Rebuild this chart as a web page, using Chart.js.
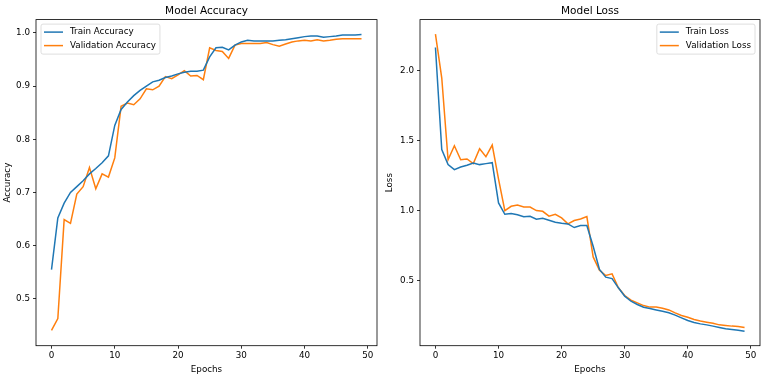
<!DOCTYPE html>
<html>
<head>
<meta charset="utf-8">
<script src="https://cdn.jsdelivr.net/npm/chart.js@4.4.1/dist/chart.umd.min.js"></script>
<style>
  body { margin: 0; background: #fff; }
  #wrap { position: relative; width: 764px; height: 378px; }
  canvas { position: absolute; top: 0; }
</style>
</head>
<body>
<div id="wrap">
  <canvas id="acc" width="382" height="378" style="left:0"></canvas>
  <canvas id="loss" width="382" height="378" style="left:382px"></canvas>
</div>
<script>
// epochs 0..49
var epochs = [0,1,2,3,4,5,6,7,8,9,10,11,12,13,14,15,16,17,18,19,20,21,22,23,24,
              25,26,27,28,29,30,31,32,33,34,35,36,37,38,39,40,41,42,43,44,45,46,47,48,49]

var trainAcc = [0.555,0.652,0.680,0.700,0.711,0.722,0.735,0.745,0.756,0.769,
                0.826,0.856,0.870,0.882,0.892,0.900,0.908,0.911,0.916,0.919,
                0.923,0.926,0.928,0.928,0.930,0.955,0.972,0.973,0.968,0.977,
                0.983,0.986,0.985,0.985,0.985,0.985,0.986,0.987,0.989,0.991,
                0.993,0.994,0.994,0.992,0.993,0.994,0.996,0.996,0.996,0.997]

var valAcc = [0.441,0.463,0.649,0.642,0.697,0.711,0.747,0.707,0.735,0.729,
              0.765,0.862,0.868,0.865,0.876,0.895,0.893,0.900,0.918,0.914,
              0.921,0.929,0.919,0.920,0.912,0.972,0.967,0.965,0.952,0.977,
              0.980,0.980,0.980,0.980,0.982,0.978,0.975,0.979,0.983,0.985,
              0.986,0.985,0.987,0.985,0.986,0.988,0.989,0.989,0.989,0.989]

var trainLoss = [2.166,1.436,1.329,1.293,1.312,1.324,1.340,1.329,1.336,1.343,
                 1.055,0.974,0.980,0.971,0.957,0.959,0.938,0.945,0.931,0.917,
                 0.910,0.905,0.879,0.893,0.893,0.745,0.579,0.524,0.514,0.448,
                 0.388,0.352,0.329,0.309,0.300,0.290,0.281,0.269,0.253,0.233,
                 0.214,0.200,0.190,0.183,0.174,0.164,0.155,0.150,0.145,0.138]

var valLoss = [2.262,1.948,1.364,1.464,1.364,1.369,1.336,1.443,1.386,1.469,
               1.225,1.000,1.031,1.040,1.026,1.026,1.000,0.995,0.960,0.974,
               0.948,0.905,0.929,0.940,0.957,0.669,0.574,0.536,0.548,0.448,
               0.393,0.360,0.340,0.321,0.310,0.310,0.302,0.290,0.269,0.250,
               0.238,0.221,0.210,0.202,0.195,0.183,0.179,0.174,0.171,0.164]

var epochTicks = [0, 10, 20, 30, 40, 50]
var accTicks = [0.5, 0.6, 0.7, 0.8, 0.9, 1.0]
var lossTicks = [0.5, 1.0, 1.5, 2.0]

var FONT = 'DejaVu Sans'
var small = { family: FONT, size: 8.75 }
var BLUE = '#1f77b4', ORANGE = '#ff7f0e'

function pts(vals) {
    return epochs.map(function (e, i) { return { x: e, y: vals[i] } })
}

// axes frame like matplotlib spines
var frame = {
    id: 'frame',
    afterDatasetsDraw: function (chart) {
        var a = chart.chartArea, ctx = chart.ctx
        ctx.save()
        ctx.strokeStyle = '#000'
        ctx.lineWidth = 0.8
        ctx.strokeRect(a.left, a.top, a.right - a.left, a.bottom - a.top)
        ctx.restore()
    }
}

// legend box inside the axes
var boxLegend = {
    id: 'boxLegend',
    afterDraw: function (chart, args, opts) {
        var ctx = chart.ctx, a = chart.chartArea
        var ds = chart.data.datasets
        ctx.save()
        ctx.font = '8.75px "' + FONT + '"'
        var tw = 0
        ds.forEach(function (d) { tw = Math.max(tw, ctx.measureText(d.label).width) })
        var w = 29 + tw + 4, h = 30
        var x = opts.side === 'right' ? a.right - 5 - w : a.left + 5
        var y = a.top + 4.5
        ctx.fillStyle = 'rgba(255,255,255,0.8)'
        ctx.strokeStyle = '#d6d6d6'
        ctx.lineWidth = 0.8
        ctx.beginPath()
        ctx.roundRect(x, y, w, h, 2)
        ctx.fill()
        ctx.stroke()
        ds.forEach(function (d, i) {
            var ly = y + 8 + i * 13.5
            ctx.strokeStyle = d.borderColor
            ctx.lineWidth = 1.5
            ctx.beginPath()
            ctx.moveTo(x + 3, ly)
            ctx.lineTo(x + 22, ly)
            ctx.stroke()
            ctx.fillStyle = '#000'
            ctx.textBaseline = 'middle'
            ctx.fillText(d.label, x + 29, ly)
        })
        ctx.restore()
    }
}

function makeChart(id, title, yLabel, series, yMin, yMax, yTicks, yWidth, rightPad, legendSide) {
    return new Chart(document.getElementById(id), {
        type: 'line',
        data: {
            datasets: series.map(function (s) {
                return {
                    label: s.label,
                    data: pts(s.values),
                    borderColor: s.color,
                    backgroundColor: s.color,
                    borderWidth: 1.5,
                    pointRadius: 0,
                    tension: 0,
                    fill: false
                }
            })
        },
        options: {
            responsive: false,
            animation: false,
            devicePixelRatio: 1,
            layout: { padding: { left: 0, right: rightPad, top: 0, bottom: 0 } },
            plugins: {
                legend: { display: false },
                tooltip: { enabled: false },
                title: {
                    display: true,
                    fullSize: false,
                    text: title,
                    color: '#000',
                    font: { family: FONT, size: 10.5, weight: 'normal' },
                    padding: { top: 5, bottom: 2 }
                },
                boxLegend: { side: legendSide }
            },
            scales: {
                x: {
                    type: 'linear',
                    min: -2.45,
                    max: 51.45,
                    afterBuildTicks: function (s) { s.ticks = epochTicks.map(function (v) { return { value: v } }) },
                    afterFit: function (s) { s.height = 32.3 },
                    grid: { drawOnChartArea: false, drawTicks: true, tickLength: 3, color: '#000', lineWidth: 0.8 },
                    border: { display: false },
                    ticks: { color: '#000', font: small, padding: 2, maxRotation: 0 },
                    title: { display: true, text: 'Epochs', color: '#000', font: small, padding: { top: 0, bottom: 3.5 } }
                },
                y: {
                    type: 'linear',
                    min: yMin,
                    max: yMax,
                    afterBuildTicks: function (s) { s.ticks = yTicks.map(function (v) { return { value: v } }) },
                    afterFit: function (s) { s.width = yWidth },
                    grid: { drawOnChartArea: false, drawTicks: true, tickLength: 3, color: '#000', lineWidth: 0.8 },
                    border: { display: false },
                    ticks: {
                        color: '#000', font: small, padding: 3,
                        callback: function (v) { return Number(v).toFixed(1) }
                    },
                    title: { display: true, text: yLabel, color: '#000', font: small, padding: { top: 2.75, bottom: 0 } }
                }
            }
        },
        plugins: [frame, boxLegend]
    })
}

makeChart('acc', 'Model Accuracy', 'Accuracy', [
    { label: 'Train Accuracy', values: trainAcc, color: BLUE },
    { label: 'Validation Accuracy', values: valAcc, color: ORANGE }
], 0.412, 1.025, accTicks, 36, 5, 'left')

makeChart('loss', 'Model Loss', 'Loss', [
    { label: 'Train Loss', values: trainLoss, color: BLUE },
    { label: 'Validation Loss', values: valLoss, color: ORANGE }
], 0.034, 2.366, lossTicks, 38, 4, 'right')
</script>
</body>
</html>
